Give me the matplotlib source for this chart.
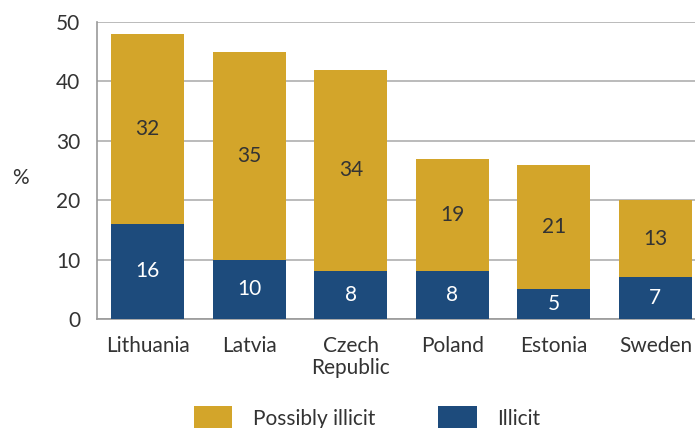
import numpy as np
import matplotlib.pyplot as plt

countries = ["Lithuania", "Latvia", "Czech\nRepublic", "Poland", "Estonia", "Sweden"]
illicit = [16, 10, 8, 8, 5, 7]
possibly = [32, 35, 34, 19, 21, 13]

gold = "#D3A52A"
blue = "#1D4B7C"
txt = "#333333"

plt.rcParams['font.family'] = ['Lato', 'DejaVu Sans']
plt.rcParams['font.size'] = 15

fig = plt.figure(figsize=(6.95, 4.28), dpi=100)
ax = fig.add_axes([97/695, 1 - 319/428, 1 - 97/695, (319 - 22)/428])

x = np.arange(len(countries))
b1 = ax.bar(x, illicit, width=0.72, color=blue, label="Illicit", zorder=3)
b2 = ax.bar(x, possibly, width=0.72, bottom=illicit, color=gold, label="Possibly illicit", zorder=3)

ax.bar_label(b1, labels=[str(v) for v in illicit], label_type="center", color="white", fontsize=15)
ax.bar_label(b2, labels=[str(v) for v in possibly], label_type="center", color=txt, fontsize=15)

ax.set_xlim(-0.5, 5.39)
ax.set_ylim(0, 50)
ax.set_yticks(range(0, 51, 10))
ax.set_xticks(x)
ax.set_xticklabels(countries, color=txt, linespacing=1.15)
ax.tick_params(axis="y", length=0, pad=12, colors=txt)
ax.tick_params(axis="x", length=0, pad=12, colors=txt)
ax.yaxis.grid(True, color="#b5b5b5", linewidth=1.3, zorder=0)

for s in ["top", "right"]:
    ax.spines[s].set_visible(False)
for s in ["left", "bottom"]:
    ax.spines[s].set_color("#999999")
    ax.spines[s].set_linewidth(1.2)

fig.text(20/695, 1 - 178/428, "%", ha="center", va="center", color=txt, fontsize=15)

handles = [b2, b1]
fig.legend(handles, ["Possibly illicit", "Illicit"], loc="upper left",
           bbox_to_anchor=(175/695, 1 - 387/428), ncol=2, frameon=False,
           handlelength=1.85, handleheight=1.4, handletextpad=1.0,
           columnspacing=3.0, fontsize=15, labelcolor=txt)

fig.savefig("out.png", dpi=100)
